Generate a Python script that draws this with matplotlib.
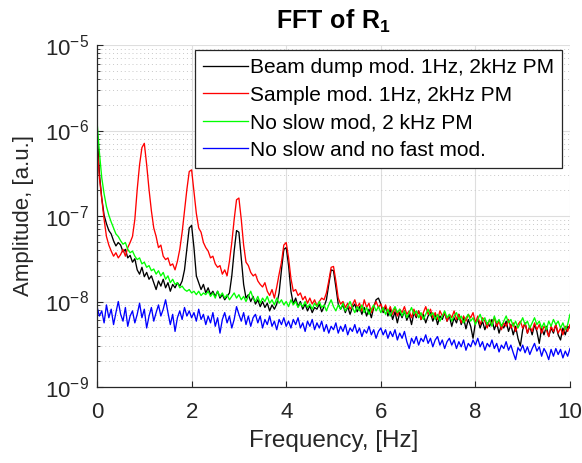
import numpy as np
import matplotlib
matplotlib.use("Agg")
import matplotlib.pyplot as plt
from matplotlib.ticker import FixedLocator, NullFormatter

plt.rcParams['font.family'] = ['Liberation Sans', 'DejaVu Sans']
plt.rcParams['mathtext.fontset'] = 'custom'
plt.rcParams['mathtext.rm'] = 'Liberation Sans'
plt.rcParams['mathtext.bf'] = 'Liberation Sans:bold'
plt.rcParams['mathtext.default'] = 'regular'

# frequency bins (Hz), 0.05 Hz spacing
freq = np.linspace(0, 10, 201)

# log10 amplitudes
beam_dump = [
    -5.96, -6.50, -6.79, -6.99, -7.09, -7.17, -7.21, -7.29, -7.35, -7.31, -7.34, -7.42, -7.39, -7.49, -7.46, -7.54, -7.50, -7.63, -7.68, -7.60,
    -7.71, -7.66, -7.74, -7.70, -7.78, -7.86, -7.76, -7.82, -7.74, -7.84, -7.78, -7.88, -7.80, -7.84, -7.78, -7.82, -7.76, -7.63, -7.39, -7.14,
    -7.11, -7.37, -7.70, -7.78, -7.86, -7.80, -7.90, -7.84, -7.92, -7.88, -7.94, -7.88, -7.96, -7.92, -7.98, -7.94, -7.90, -7.70, -7.41, -7.17,
    -7.19, -7.49, -7.80, -7.96, -7.92, -8.00, -7.94, -8.03, -7.98, -8.06, -8.00, -8.07, -8.02, -8.11, -8.04, -8.09, -8.03, -7.90, -7.63, -7.39,
    -7.37, -7.58, -7.88, -8.03, -7.96, -8.06, -8.00, -8.09, -8.03, -8.11, -8.05, -8.13, -8.07, -8.09, -8.03, -8.12, -8.06, -7.98, -7.80, -7.63,
    -7.64, -7.83, -8.03, -8.09, -8.04, -8.13, -8.06, -8.15, -8.07, -8.03, -8.12, -8.06, -8.15, -8.07, -8.17, -8.09, -8.19, -8.07, -7.98, -7.96,
    -8.03, -8.13, -8.06, -8.17, -8.09, -8.21, -8.12, -8.25, -8.13, -8.19, -8.11, -8.22, -8.15, -8.27, -8.13, -8.19, -8.11, -8.21, -8.15, -8.25,
    -8.17, -8.13, -8.23, -8.15, -8.27, -8.17, -8.21, -8.13, -8.23, -8.17, -8.29, -8.19, -8.25, -8.15, -8.27, -8.19, -8.32, -8.21, -8.29, -8.43,
    -8.25, -8.21, -8.31, -8.23, -8.33, -8.25, -8.29, -8.21, -8.33, -8.25, -8.37, -8.27, -8.31, -8.23, -8.35, -8.27, -8.39, -8.29, -8.43, -8.52,
    -8.33, -8.25, -8.37, -8.29, -8.39, -8.27, -8.35, -8.49, -8.31, -8.39, -8.29, -8.41, -8.31, -8.37, -8.27, -8.39, -8.45, -8.31, -8.39, -8.29,
    -8.31,
]
sample_mod = [
    -6.14, -6.55, -6.79, -7.04, -7.24, -7.34, -7.41, -7.47, -7.43, -7.49, -7.45, -7.39, -7.47, -7.37, -7.31, -7.24, -7.04, -6.69, -6.40, -6.20,
    -6.15, -6.40, -6.69, -6.94, -7.14, -7.24, -7.37, -7.34, -7.47, -7.51, -7.49, -7.58, -7.56, -7.63, -7.53, -7.39, -7.19, -6.94, -6.69, -6.48,
    -6.46, -6.71, -6.97, -7.14, -7.19, -7.31, -7.37, -7.41, -7.49, -7.47, -7.56, -7.60, -7.58, -7.68, -7.63, -7.70, -7.53, -7.31, -7.04, -6.81,
    -6.79, -7.04, -7.34, -7.54, -7.58, -7.66, -7.70, -7.68, -7.76, -7.80, -7.83, -7.78, -7.88, -7.93, -7.86, -7.96, -7.83, -7.68, -7.54, -7.34,
    -7.31, -7.49, -7.73, -7.88, -7.86, -7.93, -7.90, -7.98, -7.94, -8.02, -7.96, -8.03, -7.98, -8.05, -8.00, -7.96, -7.98, -7.90, -7.76, -7.60,
    -7.59, -7.76, -7.96, -8.03, -8.00, -8.07, -8.02, -8.09, -8.04, -7.98, -8.07, -8.02, -8.11, -7.98, -8.07, -8.02, -8.13, -8.06, -8.00, -8.07,
    -8.03, -8.11, -8.04, -8.13, -8.06, -8.15, -8.07, -8.17, -8.09, -8.13, -8.06, -8.15, -8.11, -8.19, -8.09, -8.17, -8.11, -8.21, -8.13, -8.06,
    -8.15, -8.09, -8.19, -8.13, -8.21, -8.11, -8.17, -8.13, -8.23, -8.15, -8.19, -8.11, -8.21, -8.15, -8.25, -8.17, -8.23, -8.15, -8.19, -8.13,
    -8.25, -8.17, -8.27, -8.19, -8.23, -8.31, -8.21, -8.27, -8.19, -8.29, -8.23, -8.33, -8.25, -8.29, -8.21, -8.31, -8.25, -8.35, -8.27, -8.23,
    -8.31, -8.25, -8.37, -8.29, -8.35, -8.25, -8.33, -8.27, -8.37, -8.29, -8.33, -8.41, -8.29, -8.35, -8.27, -8.37, -8.31, -8.39, -8.29, -8.35,
    -8.27,
]
no_slow = [
    -5.89, -6.25, -6.55, -6.74, -6.89, -6.99, -7.07, -7.14, -7.21, -7.24, -7.29, -7.33, -7.31, -7.39, -7.43, -7.41, -7.47, -7.51, -7.49, -7.56,
    -7.54, -7.60, -7.58, -7.64, -7.62, -7.68, -7.64, -7.70, -7.66, -7.74, -7.70, -7.78, -7.74, -7.80, -7.78, -7.84, -7.82, -7.86, -7.88, -7.86,
    -7.90, -7.88, -7.92, -7.88, -7.93, -7.90, -7.92, -7.88, -7.94, -7.90, -7.96, -7.88, -7.94, -7.90, -7.96, -7.92, -7.98, -7.94, -7.90, -7.96,
    -7.92, -7.98, -7.94, -8.00, -7.94, -7.88, -7.96, -8.00, -7.94, -8.02, -7.96, -8.00, -7.94, -8.02, -7.98, -8.04, -7.96, -8.02, -7.98, -8.04,
    -8.00, -8.06, -7.98, -8.04, -8.00, -8.07, -8.02, -8.06, -8.00, -8.07, -8.03, -8.09, -8.02, -8.06, -8.00, -8.07, -8.04, -8.11, -8.04, -7.98,
    -8.06, -8.11, -8.04, -8.09, -8.02, -8.11, -8.06, -8.00, -8.07, -8.13, -8.06, -8.11, -8.04, -8.13, -8.07, -8.15, -8.09, -8.04, -8.11, -8.06,
    -8.13, -8.07, -8.15, -8.09, -8.17, -8.11, -8.06, -8.13, -8.09, -8.17, -8.11, -8.19, -8.13, -8.07, -8.15, -8.11, -8.19, -8.13, -8.21, -8.15,
    -8.09, -8.17, -8.13, -8.21, -8.15, -8.23, -8.17, -8.11, -8.19, -8.15, -8.23, -8.17, -8.13, -8.21, -8.17, -8.25, -8.19, -8.15, -8.23, -8.19,
    -8.27, -8.21, -8.15, -8.23, -8.19, -8.27, -8.21, -8.29, -8.17, -8.25, -8.21, -8.29, -8.23, -8.17, -8.25, -8.21, -8.29, -8.23, -8.31, -8.25,
    -8.19, -8.27, -8.23, -8.31, -8.25, -8.19, -8.27, -8.23, -8.31, -8.25, -8.33, -8.23, -8.29, -8.21, -8.27, -8.23, -8.31, -8.25, -8.33, -8.27,
    -8.15,
]
no_slow_no_fast = [
    -8.06, -8.17, -8.11, -8.25, -8.04, -8.19, -8.09, -8.27, -8.13, -8.00, -8.15, -8.23, -8.07, -8.29, -8.17, -8.11, -8.25, -8.15, -8.02, -8.19,
    -8.09, -8.31, -8.17, -8.07, -8.23, -8.13, -8.04, -8.17, -8.09, -7.98, -8.13, -8.27, -8.15, -8.35, -8.19, -8.11, -8.21, -8.07, -8.17, -8.11,
    -8.19, -8.13, -8.23, -8.09, -8.21, -8.15, -8.27, -8.17, -8.25, -8.13, -8.29, -8.19, -8.37, -8.21, -8.13, -8.25, -8.17, -8.31, -8.21, -8.06,
    -8.15, -8.23, -8.13, -8.27, -8.17, -8.29, -8.19, -8.15, -8.25, -8.17, -8.31, -8.21, -8.27, -8.17, -8.29, -8.23, -8.33, -8.21, -8.27, -8.19,
    -8.29, -8.23, -8.31, -8.21, -8.27, -8.19, -8.31, -8.25, -8.35, -8.23, -8.29, -8.21, -8.33, -8.25, -8.31, -8.23, -8.35, -8.27, -8.37, -8.29,
    -8.33, -8.25, -8.37, -8.29, -8.35, -8.27, -8.39, -8.31, -8.35, -8.27, -8.37, -8.31, -8.41, -8.33, -8.37, -8.29, -8.39, -8.33, -8.43, -8.35,
    -8.31, -8.39, -8.33, -8.43, -8.35, -8.41, -8.33, -8.45, -8.37, -8.43, -8.35, -8.47, -8.55, -8.43, -8.49, -8.41, -8.51, -8.43, -8.47, -8.39,
    -8.49, -8.43, -8.53, -8.45, -8.41, -8.51, -8.45, -8.55, -8.47, -8.43, -8.51, -8.45, -8.55, -8.47, -8.53, -8.45, -8.57, -8.49, -8.53, -8.45,
    -8.51, -8.43, -8.53, -8.47, -8.57, -8.49, -8.53, -8.45, -8.55, -8.49, -8.59, -8.51, -8.55, -8.47, -8.57, -8.51, -8.60, -8.68, -8.54, -8.58,
    -8.51, -8.60, -8.53, -8.62, -8.55, -8.49, -8.58, -8.53, -8.64, -8.55, -8.60, -8.68, -8.56, -8.64, -8.55, -8.62, -8.56, -8.66, -8.58, -8.64,
    -8.55,
]

labels = ['Beam dump mod. 1Hz, 2kHz PM', 'Sample mod. 1Hz, 2kHz PM',
          'No slow mod, 2 kHz PM', 'No slow and no fast mod.']
colors = ['#000000', '#ff0000', '#00ff00', '#0000ff']
series = [beam_dump, sample_mod, no_slow, no_slow_no_fast]

ytick_vals = [1e-9, 1e-8, 1e-7, 1e-6, 1e-5]
ytick_labels = ['10$^{-9}$', '10$^{-8}$', '10$^{-7}$', '10$^{-6}$', '10$^{-5}$']
xtick_vals = [0, 2, 4, 6, 8, 10]

fig = plt.figure(figsize=(5.82, 4.63), dpi=100)
ax = fig.add_axes([97 / 582, 76 / 463, 473 / 582, 342 / 463])

for s, c, lab in zip(series, colors, labels):
    ax.plot(freq, np.power(10.0, np.array(s)), color=c, lw=0.95, label=lab)

ax.set_yscale('log')
ax.set_xlim(0, 10)
ax.set_ylim(1e-9, 1e-5)
ax.set_xticks(xtick_vals)
ax.set_xticklabels([str(v) for v in xtick_vals])
ax.set_yticks(ytick_vals)
ax.set_yticklabels(ytick_labels)
minors = [m * 10.0 ** e for e in range(-9, -5) for m in range(2, 10)]
ax.yaxis.set_minor_locator(FixedLocator(minors))
ax.yaxis.set_minor_formatter(NullFormatter())

txtc = '#262626'
ax.tick_params(axis='both', which='major', direction='in', labelsize=16, colors=txtc, length=4, width=0.8)
ax.tick_params(axis='x', which='major', pad=11)
ax.tick_params(axis='y', which='major', pad=6)
ax.tick_params(axis='y', which='minor', direction='in', length=2, width=0.6, colors=txtc)
ax.grid(True, which='major', color='#dedede', lw=0.8, ls='-')
ax.grid(True, which='minor', axis='y', color='#c8c8c8', lw=0.7, ls=(0, (1, 3)))
ax.set_axisbelow(True)
for side in ['top', 'right']:
    ax.spines[side].set_visible(False)
for side in ['left', 'bottom']:
    ax.spines[side].set_color(txtc)
    ax.spines[side].set_linewidth(0.9)

ax.set_xlabel('Frequency, [Hz]', fontsize=17.5, color=txtc, labelpad=5)
ax.set_ylabel('Amplitude, [a.u.]', fontsize=16, color=txtc, labelpad=8)
ax.set_title(r'$\mathbf{FFT\ of\ R_{1}}$', fontsize=18, color='#000000', pad=12)

leg = ax.legend(loc='upper right', bbox_to_anchor=(465 / 473, 337 / 342), borderaxespad=0,
                fontsize=15, frameon=True, fancybox=False, handlelength=2.16,
                handletextpad=0.08, labelspacing=0.41, borderpad=0.39)
leg.get_frame().set_edgecolor('#262626')
leg.get_frame().set_linewidth(0.9)
leg.get_frame().set_alpha(1.0)
for t in leg.get_texts():
    t.set_color('#000000')

fig.savefig('out.png', dpi=100)
